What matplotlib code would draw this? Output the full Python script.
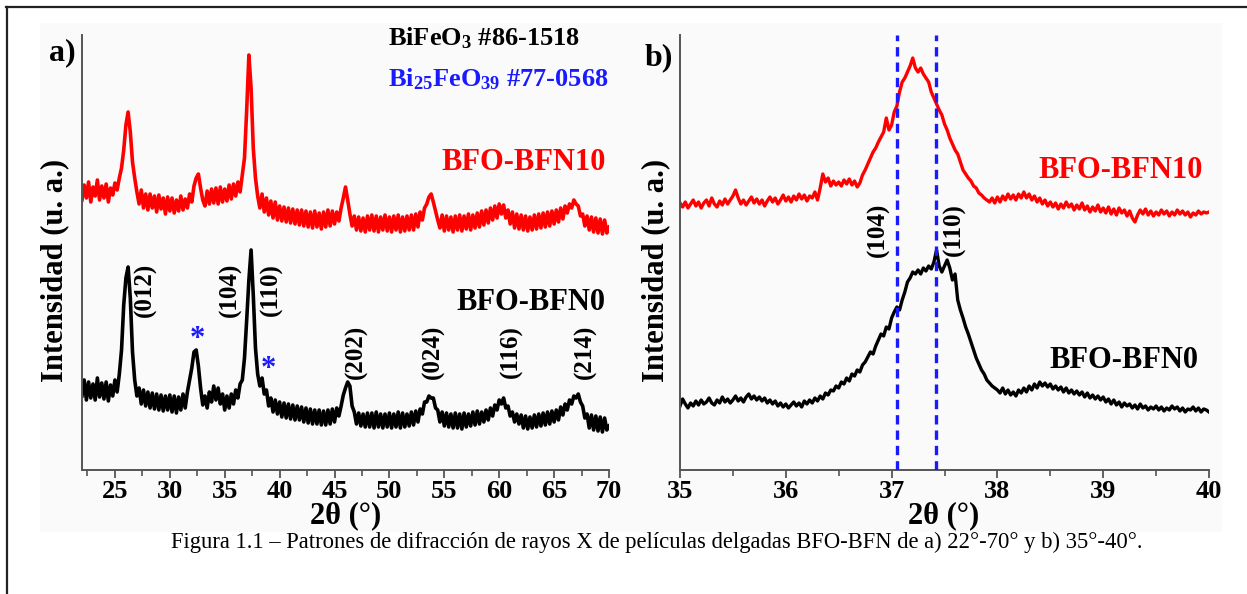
import numpy as np
import matplotlib
matplotlib.use("Agg")
import matplotlib.pyplot as plt
from matplotlib.patches import Rectangle
from matplotlib.lines import Line2D
from matplotlib.ticker import MultipleLocator

plt.rcParams["font.family"] = ["Liberation Serif", "DejaVu Serif"]
plt.rcParams["font.weight"] = "bold"
plt.rcParams["mathtext.fontset"] = "custom"
plt.rcParams["mathtext.rm"] = "Liberation Serif:bold"
plt.rcParams["mathtext.it"] = "Liberation Serif:bold"
plt.rcParams["mathtext.bf"] = "Liberation Serif:bold"
plt.rcParams["mathtext.default"] = "rm"

# ---------------- data: panel a (2theta 22-70, step 0.2) ----------------
two_theta_a = np.round(np.arange(22.0, 70.0001, 0.2), 1)

bfn10_wide = [
    270, 285, 272, 288, 268, 283, 274, 290, 270, 284,
    272, 286, 268, 282, 275, 287, 280, 292, 302, 320,
    345, 358, 338, 308, 292, 278, 266, 280, 262, 276,
    260, 276, 262, 274, 258, 275, 261, 272, 256, 273,
    259, 272, 257, 270, 259, 274, 260, 271, 262, 276,
    268, 284, 292, 296, 282, 270, 264, 279, 266, 281,
    267, 282, 266, 283, 268, 281, 269, 285, 271, 286,
    274, 288, 278, 295, 312, 360, 415, 382, 322, 292,
    274, 262, 276, 258, 272, 255, 269, 252, 268, 250,
    264, 249, 263, 248, 262, 247, 261, 246, 260, 245,
    260, 244, 259, 243, 258, 242, 259, 243, 257, 241,
    258, 243, 260, 244, 259, 246, 258, 249, 262, 272,
    283, 270, 256, 244, 254, 240, 253, 239, 252, 238,
    254, 240, 255, 239, 254, 238, 253, 240, 255, 239,
    253, 238, 254, 240, 255, 238, 253, 239, 254, 240,
    255, 240, 256, 243, 258, 250, 262, 266, 273, 276,
    268, 259, 250, 242, 255, 239, 254, 240, 253, 238,
    254, 240, 255, 239, 254, 241, 256, 240, 255, 242,
    257, 243, 259, 245, 260, 247, 262, 250, 264, 252,
    266, 256, 265, 252, 260, 246, 258, 242, 256, 241,
    255, 240, 254, 239, 253, 240, 255, 241, 256, 242,
    257, 243, 258, 244, 259, 246, 260, 248, 262, 251,
    264, 257, 266, 262, 270, 266, 264, 254, 256, 244,
    254, 240, 253, 238, 252, 237, 251, 236, 250, 237,
    243,
]

bfn0_wide = [
    74, 90, 70, 88, 72, 86, 70, 92, 73, 87,
    71, 88, 69, 85, 74, 90, 78, 96, 120, 165,
    192, 203, 172, 118, 90, 74, 82, 66, 80, 64,
    78, 62, 77, 61, 76, 60, 75, 59, 74, 60,
    75, 58, 74, 57, 73, 60, 76, 62, 78, 90,
    102, 118, 120, 104, 82, 65, 74, 62, 78, 68,
    84, 70, 82, 66, 76, 60, 74, 62, 76, 66,
    80, 72, 86, 90, 112, 150, 190, 220, 175, 122,
    96, 84, 92, 76, 80, 64, 72, 58, 70, 56,
    68, 53, 67, 52, 66, 51, 65, 50, 64, 50,
    63, 48, 62, 47, 61, 46, 60, 46, 60, 45,
    59, 45, 60, 46, 61, 48, 62, 54, 64, 75,
    82, 88, 84, 64, 58, 46, 57, 44, 56, 43,
    57, 43, 57, 42, 58, 43, 56, 42, 56, 43,
    57, 42, 56, 43, 58, 42, 57, 43, 56, 44,
    58, 45, 59, 48, 61, 56, 68, 68, 74, 72,
    72, 62, 60, 48, 58, 44, 57, 43, 56, 42,
    57, 42, 56, 41, 57, 43, 56, 44, 58, 45,
    59, 46, 58, 48, 60, 50, 62, 54, 65, 60,
    70, 66, 72, 62, 64, 54, 58, 48, 56, 46,
    55, 42, 54, 41, 53, 42, 55, 43, 56, 44,
    57, 45, 58, 46, 59, 48, 60, 50, 63, 55,
    66, 60, 70, 66, 74, 72, 76, 68, 64, 52,
    56, 42, 55, 40, 54, 39, 53, 38, 52, 40,
    44,
]

# ---------------- data: panel b (2theta 35-40, step 0.025) ----------------
two_theta_b = np.round(np.arange(35.0, 40.00001, 0.025), 3)

bfn10_zoom = [
    267, 263, 268, 262, 266, 270, 264, 268, 262, 267,
    270, 264, 272, 266, 263, 269, 265, 271, 266, 270,
    274, 280, 272, 266, 270, 265, 269, 273, 267, 271,
    266, 270, 264, 269, 273, 268, 272, 266, 270, 275,
    269, 273, 268, 274, 270, 276, 271, 275, 269, 274,
    272, 278, 270, 282, 296, 288, 292, 284, 289, 285,
    288, 284, 290, 286, 291, 285, 289, 283, 287, 295,
    300, 306, 312, 318, 322, 328, 333, 338, 352, 340,
    345, 358, 364, 378, 388, 392, 398, 404, 412, 402,
    398, 402, 396, 392, 388, 378, 372, 366, 360, 355,
    346, 340, 332, 326, 320, 316, 308, 300, 296, 292,
    289, 284, 282, 277, 275, 272, 270, 268, 272, 267,
    273, 268, 274, 270, 276, 271, 275, 270, 276, 272,
    278, 272, 276, 270, 274, 268, 272, 266, 270, 264,
    268, 263, 267, 261, 266, 262, 268, 263, 266, 260,
    265, 261, 267, 260, 264, 258, 263, 259, 265, 258,
    262, 257, 263, 256, 261, 255, 262, 257, 260, 254,
    259, 252, 248, 255, 260, 256, 261, 255, 259, 254,
    258, 255, 260, 256, 259, 254, 258, 255, 260, 256,
    259, 255, 258, 253, 257, 255, 259, 256, 258, 257,
    258,
]

bfn0_zoom = [
    64, 71, 66, 62, 67, 64, 69, 65, 70, 66,
    68, 72, 67, 65, 70, 67, 73, 68, 71, 67,
    70, 74, 69, 72, 68, 73, 76, 71, 74, 70,
    73, 69, 72, 67, 70, 66, 69, 64, 67, 63,
    66, 62, 65, 68, 64, 67, 63, 69, 66, 70,
    67, 72, 69, 74, 71, 77, 75, 80, 79, 84,
    82, 88, 86, 92, 89, 96, 94, 100, 98, 105,
    108, 113, 118, 116, 124, 130, 136, 134, 143, 141,
    152, 158, 163, 160, 170, 178, 188, 192, 198, 196,
    200, 196, 202, 199, 204, 201, 208, 220, 204, 198,
    204, 210, 202, 190, 196, 170, 160, 152, 143, 136,
    128, 120, 112, 106, 100, 96, 90, 87, 84, 82,
    80, 77, 82, 76, 80, 75, 78, 74, 80, 77,
    82, 78, 84, 80, 86, 82, 88, 84, 87, 83,
    86, 81, 84, 80, 83, 78, 82, 77, 80, 76,
    79, 75, 78, 73, 77, 72, 75, 71, 74, 70,
    73, 68, 71, 66, 70, 65, 68, 63, 67, 64,
    66, 62, 65, 61, 66, 62, 64, 60, 63, 61,
    64, 60, 63, 59, 62, 60, 64, 61, 63, 59,
    62, 58, 61, 60, 63, 59, 62, 58, 61, 60,
    58,
]

# reflections
peaks_a_upper = ["(012)", "(104)", "(110)"]
peaks_a_upper_pos = [27.8, 35.5, 39.2]
peaks_a_lower = ["(202)", "(024)", "(116)", "(214)"]
peaks_a_lower_pos = [46.95, 53.97, 61.07, 67.8]
impurity_pos = [32.47, 38.94]
ref_lines_b = [37.05, 37.42]
peaks_b = ["(104)", "(110)"]
peaks_b_pos = [36.87, 37.59]

W, H = 1247, 594
fig = plt.figure(figsize=(W / 100, H / 100), dpi=100)
fig.patch.set_facecolor("white")


def fx(x):
    return x / W


def fy(y):
    return 1 - y / H


# light panel behind both plots and the page frame
fig.add_artist(Rectangle((fx(40), fy(532)), fx(1222) - fx(40), fy(23) - fy(532),
                         transform=fig.transFigure, facecolor="#fafafa",
                         edgecolor="none", zorder=-5))
fig.add_artist(Line2D([fx(6), fx(1247)], [fy(7), fy(7)], transform=fig.transFigure,
                      color="#222222", lw=1.6))
fig.add_artist(Line2D([fx(7), fx(7)], [fy(7), fy(594)], transform=fig.transFigure,
                      color="#222222", lw=1.6))

RED = "#ff0000"
BLUE = "#1a1aff"

axA = fig.add_axes([fx(82), fy(470), fx(609) - fx(82), fy(35) - fy(470)])
axB = fig.add_axes([fx(680), fy(470), fx(1209) - fx(680), fy(35) - fy(470)])

for ax in (axA, axB):
    ax.set_facecolor("none")
    ax.set_ylim(0, 435)
    for s in ("top", "right"):
        ax.spines[s].set_visible(False)
    for s in ("left", "bottom"):
        ax.spines[s].set_color("#555555")
        ax.spines[s].set_linewidth(1.4)
    ax.set_yticks([])
    ax.tick_params(axis="x", which="major", direction="out", length=6, width=1.3,
                   color="#555555", labelsize=19, pad=1.5)
    ax.tick_params(axis="x", which="minor", direction="out", length=4, width=1.2,
                   color="#555555")

# panel a
axA.set_xlim(22, 70)
axA.xaxis.set_major_locator(MultipleLocator(5))
axA.xaxis.set_minor_locator(MultipleLocator(2.5))
axA.plot(two_theta_a, bfn10_wide, color=RED, lw=2.6, solid_joinstyle="round")
axA.plot(two_theta_a, bfn0_wide, color="black", lw=2.6, solid_joinstyle="round")

for lab, pos in zip(peaks_a_upper, peaks_a_upper_pos):
    axA.text(pos, 180, lab, rotation=90, ha="center", va="center", fontsize=18)
for lab, pos in zip(peaks_a_lower, peaks_a_lower_pos):
    axA.text(pos, 118, lab, rotation=90, ha="center", va="center", fontsize=18)
axA.text(impurity_pos[0], 130, "*", color=BLUE, ha="center", va="center", fontsize=22)
axA.text(impurity_pos[1], 100, "*", color=BLUE, ha="center", va="center", fontsize=22)

axA.text(69.7, 307, "BFO-BFN10", color=RED, ha="right", va="center", fontsize=22)
axA.text(69.7, 167, "BFO-BFN0", color="black", ha="right", va="center", fontsize=22)
axA.text(49.87, 432, r"BiFeO$_3$ #86-1518", color="black", ha="left", va="center",
         fontsize=19)
axA.text(49.87, 391, r"Bi$_{25}$FeO$_{39}$ #77-0568", color=BLUE, ha="left",
         va="center", fontsize=19)

# panel b
axB.set_xlim(35, 40)
axB.xaxis.set_major_locator(MultipleLocator(1))
axB.xaxis.set_minor_locator(MultipleLocator(0.5))
axB.plot(two_theta_b, bfn10_zoom, color=RED, lw=2.4, solid_joinstyle="round")
axB.plot(two_theta_b, bfn0_zoom, color="black", lw=2.4, solid_joinstyle="round")
for pos in ref_lines_b:
    axB.axvline(pos, color=BLUE, lw=2.4, linestyle=(0, (2.8, 1.8)), zorder=3)
for lab, pos in zip(peaks_b, peaks_b_pos):
    axB.text(pos, 240, lab, rotation=90, ha="center", va="center", fontsize=18)
axB.text(39.94, 299, "BFO-BFN10", color=RED, ha="right", va="center", fontsize=22)
axB.text(39.9, 110, "BFO-BFN0", color="black", ha="right", va="center", fontsize=22)

# axis titles and panel tags
for xc in (346, 944):
    fig.text(fx(xc), fy(516), "2θ (°)", ha="center", va="center", fontsize=22)
for xc in (55, 656):
    fig.text(fx(xc), fy(270), "Intensidad (u. a.)", rotation=90, ha="center",
             va="center", fontsize=22)
fig.text(fx(62), fy(53), "a)", ha="center", va="center", fontsize=23)
fig.text(fx(659), fy(58), "b)", ha="center", va="center", fontsize=23)

fig.text(fx(657), fy(542),
         "Figura 1.1 – Patrones de difracción de rayos X de películas delgadas "
         "BFO-BFN de a) 22°-70° y b) 35°-40°.",
         ha="center", va="center", fontsize=16.3, fontweight="normal")

fig.savefig("out.png", dpi=100)
